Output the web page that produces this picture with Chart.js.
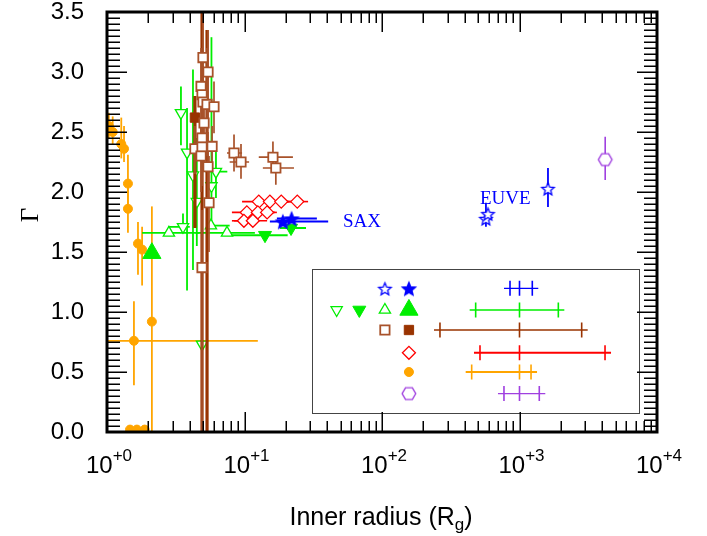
<!DOCTYPE html>
<html>
<head>
<meta charset="utf-8">
<script src="https://cdn.jsdelivr.net/npm/chart.js@4.4.1/dist/chart.umd.min.js"></script>
<style>
  html, body { margin: 0; padding: 0; background: #fff; }
  #chart { display: block; }
</style>
</head>
<body>
<canvas id="chart" width="707" height="536"></canvas>
<script>
// each point: [x, y, xlo, xhi, ylo, yhi]  (null = no error bar)
const orangePts = [
  [1.03, 2.55, null, null, 2.45, 2.66],
  [1.10, 2.50, null, null, 2.40, 2.63],
  [1.27, 2.40, null, null, 2.28, 2.62],
  [1.33, 2.36, null, null, 2.25, 2.55],
  [1.42, 2.07, null, null, 1.85, 2.31],
  [1.42, 1.86, null, null, 1.66, 2.05],
  [1.68, 1.57, null, null, 1.31, 1.75],
  [1.80, 1.52, null, null, 1.22, 1.71],
  [2.12, 0.92, null, null, 0.00, 1.88],
  [1.57, 0.76, 1.00, 12.5, 0.39, 1.09],
  [1.47, 0.02, null, null, null, null],
  [1.65, 0.02, null, null, null, null],
  [1.88, 0.02, null, null, null, null]
];
const greenOpenDown = [
  [3.45, 2.66, null, null, 2.39, 2.88],
  [3.82, 2.33, null, null, 1.18, 2.70],
  [4.22, 2.14, null, null, 1.35, 3.02],
  [6.20, 2.17, 5.2, 7.5, 1.95, 2.35],
  [4.50, 1.92, null, null, 1.55, 2.45],
  [3.57, 1.71, 2.78, 4.0, 1.67, 1.82],
  [4.91, 0.73, null, null, 0.57, 1.93],
  [5.75, 2.05, null, null, 1.75, 3.29]
];
const greenOpenUp = [
  [2.82, 1.66, 1.8, 4.7, null, null],
  [5.70, 1.72, 5.3, 7.8, null, null],
  [7.46, 1.66, 4.4, 11.9, null, null]
];
const greenFilledDown = [
  [14.1, 1.64, 8.1, 20.6, null, null],
  [21.8, 1.70, 18.1, 28.0, null, null]
];
const greenFilledUp = [
  [2.12, 1.49, null, null, null, null]
];
const brownOpen = [
  [4.99, 3.12, null, null, 2.70, 3.60],
  [5.43, 3.00, null, null, 2.55, 3.35],
  [4.83, 2.88, null, null, 2.45, 3.20],
  [4.91, 2.81, null, null, 2.35, 3.10],
  [4.99, 2.75, null, null, 2.40, 3.05],
  [5.34, 2.73, null, null, 2.30, 3.20],
  [6.00, 2.71, null, null, 2.49, 2.92],
  [5.08, 2.575, null, null, 2.20, 2.90],
  [4.91, 2.45, null, null, 2.10, 2.80],
  [4.36, 2.36, null, null, 2.15, 2.55],
  [4.91, 2.375, null, null, 2.05, 2.70],
  [5.81, 2.38, null, null, 2.20, 2.55],
  [4.83, 2.30, null, null, 2.00, 2.60],
  [5.43, 2.21, null, null, 1.90, 2.50],
  [5.52, 1.91, null, null, 1.50, 2.30],
  [4.91, 1.37, null, null, 0.00, 1.85],
  [8.39, 2.325, 7.46, 9.6, 2.17, 2.48],
  [9.43, 2.25, 7.8, 10.8, 2.11, 2.40],
  [16.1, 2.29, 12.7, 22.5, 2.17, 2.42],
  [16.9, 2.20, 13.6, 22.9, 2.06, 2.27]
];
const brownFilled = [
  [4.36, 2.62, null, null, 1.70, 2.80],
  [4.91, 2.45, null, null, 0.00, 3.60],
  [5.34, 2.73, null, null, 0.00, 3.35]
];
const redDiamonds = [
  [12.7, 1.92, 9.6, 17.0, null, null],
  [15.3, 1.92, 11.5, 21.0, null, null],
  [18.5, 1.92, 13.9, 24.5, null, null],
  [24.2, 1.92, 18.5, 29.0, null, null],
  [10.4, 1.83, 8.1, 14.2, null, null],
  [12.5, 1.83, 9.5, 16.6, null, null],
  [14.6, 1.83, 10.6, 17.2, null, null],
  [9.9, 1.76, 8.1, 12.5, null, null],
  [11.5, 1.76, 8.4, 14.6, null, null]
];
const blueFilledStars = [
  [19.0, 1.755, 15.3, 40.6, null, null],
  [22.0, 1.78, 17.2, 33.6, null, null]
];
const blueOpenStars = [
  [570, 1.78, null, null, 1.71, 1.91],
  [590, 1.82, null, null, null, null],
  [1611, 2.03, null, null, 1.875, 2.20]
];
const purpleHex = [
  [4200, 2.27, null, null, 2.10, 2.46]
];

// axis ticks
const yLabels = [0, 0.5, 1.0, 1.5, 2.0, 2.5, 3.0, 3.5];
const xDecades = [1, 10, 100, 1000, 10000];
const xExponents = ['+0', '+1', '+2', '+3', '+4'];

// annotation text in data units
const notes = [
  { text: 'SAX', x: 52, y: 1.71 },
  { text: 'EUVE', x: 516, y: 1.90 }
];

// legend (data units): column x, row y, error-bar samples [lo, mid, hi]
const legendCols = [46.8, 68.4, 105, 157];
const legendRows = [1.197, 1.017, 0.85, 0.66, 0.5, 0.32];
const legendBars = [
  [853, 1000, 1239],
  [480, 1000, 1916],
  [264, 1000, 2833],
  [516, 1000, 4188],
  [449, 1000, 1213],
  [771, 1000, 1393]
];
const legendBox = { x0: 30.8, x1: 7310, y0: 1.358, y1: 0.156 };

const blue = '#0000ff', green = '#00ee00', brown = '#993300', sienna = '#a8522a',
      red = '#ff0000', orange = '#ffa500', purple = '#a040e0';

function pts(arr) {
  return arr.map(p => ({ x: p[0], y: p[1], xlo: p[2], xhi: p[3], ylo: p[4], yhi: p[5] }));
}

function starImg(R, color, filled) {
  const s = Math.ceil(R * 2 + 4);
  const c = document.createElement('canvas');
  c.width = c.height = s;
  const g = c.getContext('2d');
  const m = s / 2;
  g.beginPath();
  for (let k = 0; k < 10; k++) {
    const r = k % 2 ? R * 0.45 : R;
    const a = -Math.PI / 2 + k * Math.PI / 5;
    g.lineTo(m + r * Math.cos(a), m + 1 + r * Math.sin(a));
  }
  g.closePath();
  g.fillStyle = filled ? color : '#fff';
  g.fill();
  g.lineWidth = 1.3;
  g.strokeStyle = color;
  g.stroke();
  return c;
}

function hexImg(R, color) {
  const s = Math.ceil(R * 2 + 4);
  const c = document.createElement('canvas');
  c.width = c.height = s;
  const g = c.getContext('2d');
  const m = s / 2;
  g.beginPath();
  for (let k = 0; k < 6; k++) {
    const a = k * Math.PI / 3;
    g.lineTo(m + R * Math.cos(a), m + R * Math.sin(a));
  }
  g.closePath();
  g.fillStyle = '#fff';
  g.fill();
  g.lineWidth = 1.4;
  g.strokeStyle = color;
  g.stroke();
  return c;
}

const sym = {
  starFilled: { pointStyle: starImg(7, blue, true) },
  starOpen: { pointStyle: starImg(6.5, blue, false) },
  hex: { pointStyle: hexImg(6.8, purple) },
  diamond: { pointStyle: 'rectRot', pointRadius: 6.5, borderColor: red, backgroundColor: '#fff', borderWidth: 1.3 },
  squareOpen: { pointStyle: 'rect', pointRadius: 6.6, borderColor: sienna, backgroundColor: '#fff', borderWidth: 1.8 },
  squareFilled: { pointStyle: 'rect', pointRadius: 6.6, borderColor: brown, backgroundColor: brown, borderWidth: 1 },
  triDownFilled: { pointStyle: 'triangle', rotation: 180, pointRadius: 7.5, borderColor: green, backgroundColor: green, borderWidth: 1 },
  triUpBig: { pointStyle: 'triangle', pointRadius: 10.5, borderColor: green, backgroundColor: green, borderWidth: 1 },
  triUpOpen: { pointStyle: 'triangle', pointRadius: 6.5, borderColor: green, backgroundColor: '#fff', borderWidth: 1.3 },
  triDownOpen: { pointStyle: 'triangle', rotation: 180, pointRadius: 6.5, borderColor: green, backgroundColor: '#fff', borderWidth: 1.3 },
  dot: { pointStyle: 'circle', pointRadius: 4.5, borderColor: orange, backgroundColor: orange, borderWidth: 1 }
};

function series(arr, s, errColor, errWidth) {
  return Object.assign({ data: pts(arr), errColor, errWidth, clip: 0 }, s);
}
function legendSym(col, row, s) {
  return Object.assign({ data: [{ x: legendCols[col], y: legendRows[row] }], clip: 0 }, s);
}

const datasets = [
  legendSym(2, 0, sym.starOpen), legendSym(3, 0, sym.starFilled),
  legendSym(0, 1, sym.triDownOpen), legendSym(1, 1, sym.triDownFilled),
  legendSym(2, 1, sym.triUpOpen), legendSym(3, 1, sym.triUpBig),
  legendSym(2, 2, sym.squareOpen), legendSym(3, 2, sym.squareFilled),
  legendSym(3, 3, sym.diamond), legendSym(3, 4, sym.dot), legendSym(3, 5, sym.hex),
  series(blueFilledStars, sym.starFilled, blue, 2),
  series(blueOpenStars, sym.starOpen, blue, 1.8),
  series(purpleHex, sym.hex, purple, 1.6),
  series(redDiamonds, sym.diamond, red, 1.6),
  series(brownOpen, sym.squareOpen, sienna, 1.7),
  series(brownFilled, sym.squareFilled, brown, 3.2),
  series(greenFilledDown, sym.triDownFilled, green, 2),
  series(greenFilledUp, sym.triUpBig, green, 2),
  series(greenOpenUp, sym.triUpOpen, green, 1.8),
  series(greenOpenDown, sym.triDownOpen, green, 1.8),
  series(orangePts, sym.dot, orange, 1.8)
];

const legendColors = [blue, green, brown, red, orange, purple];

const figure = {
  id: 'figure',
  beforeDatasetsDraw(chart) {
    const { ctx, scales: { x, y } } = chart;
    // legend box
    const bx0 = x.getPixelForValue(legendBox.x0), bx1 = x.getPixelForValue(legendBox.x1);
    const by0 = y.getPixelForValue(legendBox.y0), by1 = y.getPixelForValue(legendBox.y1);
    ctx.save();
    ctx.fillStyle = '#fff';
    ctx.fillRect(bx0, by0, bx1 - bx0, by1 - by0);
    ctx.strokeStyle = '#444';
    ctx.lineWidth = 1;
    ctx.strokeRect(Math.round(bx0) + 0.5, Math.round(by0) + 0.5, Math.round(bx1 - bx0), Math.round(by1 - by0));
    legendBars.forEach((b, i) => {
      const py = y.getPixelForValue(legendRows[i]);
      const xs = b.map(v => x.getPixelForValue(v));
      ctx.strokeStyle = legendColors[i];
      ctx.lineWidth = (i === 3 || i === 4) ? 2 : 1.4;
      ctx.beginPath();
      ctx.moveTo(xs[0] - 6, py); ctx.lineTo(xs[2] + 6, py);
      ctx.stroke();
      ctx.lineWidth = 1.6;
      ctx.beginPath();
      xs.forEach(px => { ctx.moveTo(px, py - 7.5); ctx.lineTo(px, py + 7.5); });
      ctx.stroke();
    });
    ctx.restore();
  },
  beforeDatasetDraw(chart, args) {
    const ds = chart.data.datasets[args.index];
    if (!ds.errColor) return;
    const { ctx, chartArea: a, scales: { x, y } } = chart;
    ctx.save();
    ctx.beginPath();
    ctx.rect(a.left, a.top, a.right - a.left, a.bottom - a.top);
    ctx.clip();
    ctx.strokeStyle = ds.errColor;
    ctx.lineWidth = ds.errWidth;
    ds.data.forEach(p => {
      const px = x.getPixelForValue(p.x), py = y.getPixelForValue(p.y);
      ctx.beginPath();
      if (p.xlo != null) {
        ctx.moveTo(x.getPixelForValue(p.xlo), py);
        ctx.lineTo(x.getPixelForValue(p.xhi), py);
      }
      if (p.ylo != null) {
        ctx.moveTo(px, y.getPixelForValue(p.ylo));
        ctx.lineTo(px, y.getPixelForValue(p.yhi));
      }
      ctx.stroke();
    });
    ctx.restore();
  },
  afterDatasetsDraw(chart) {
    const { ctx, chartArea: a, scales: { x, y } } = chart;
    ctx.save();
    // inward ticks on all four sides
    ctx.strokeStyle = '#000';
    ctx.lineWidth = 1.5;
    ctx.beginPath();
    for (let k = 0; k <= 70; k++) {
      const v = k * 0.05;
      const len = k % 10 === 0 ? 20 : 13;
      const py = Math.round(y.getPixelForValue(v)) + 0.25;
      ctx.moveTo(a.left, py); ctx.lineTo(a.left + len, py);
      ctx.moveTo(a.right, py); ctx.lineTo(a.right - len, py);
    }
    xDecades.forEach((d, i) => {
      for (let m = 1; m <= 9; m++) {
        if (i === xDecades.length - 1 && m > 1) break;
        const px = Math.round(x.getPixelForValue(d * m)) + 0.25;
        const len = m === 1 ? 20 : 11;
        ctx.moveTo(px, a.bottom); ctx.lineTo(px, a.bottom - len);
        ctx.moveTo(px, a.top); ctx.lineTo(px, a.top + len);
      }
    });
    ctx.stroke();
    // frame
    ctx.lineWidth = 3;
    ctx.strokeRect(a.left, a.top, a.right - a.left, a.bottom - a.top);

    // y tick labels
    ctx.fillStyle = '#000';
    ctx.font = '24px "Liberation Sans", Arial, sans-serif';
    ctx.textAlign = 'right';
    ctx.textBaseline = 'middle';
    yLabels.forEach(v => ctx.fillText(v.toFixed(1), 84, y.getPixelForValue(v)));

    // x tick labels 10^n
    ctx.textAlign = 'left';
    ctx.textBaseline = 'alphabetic';
    xDecades.forEach((d, i) => {
      const px = x.getPixelForValue(d);
      ctx.font = '24px "Liberation Sans", Arial, sans-serif';
      const wb = ctx.measureText('10').width;
      ctx.font = '17px "Liberation Sans", Arial, sans-serif';
      const we = ctx.measureText(xExponents[i]).width;
      const x0 = px - (wb + we) / 2 + 2;
      ctx.font = '24px "Liberation Sans", Arial, sans-serif';
      ctx.fillText('10', x0, 473);
      ctx.font = '17px "Liberation Sans", Arial, sans-serif';
      ctx.fillText(xExponents[i], x0 + wb, 461);
    });

    // x axis title with subscript
    const t1 = 'Inner radius (R', t2 = 'g', t3 = ')';
    ctx.font = '25px "Liberation Sans", Arial, sans-serif';
    const w1 = ctx.measureText(t1).width, w3 = ctx.measureText(t3).width;
    ctx.font = '17px "Liberation Sans", Arial, sans-serif';
    const w2 = ctx.measureText(t2).width;
    const tx = 381 - (w1 + w2 + w3) / 2;
    ctx.font = '25px "Liberation Sans", Arial, sans-serif';
    ctx.fillText(t1, tx, 525);
    ctx.font = '17px "Liberation Sans", Arial, sans-serif';
    ctx.fillText(t2, tx + w1, 530);
    ctx.font = '25px "Liberation Sans", Arial, sans-serif';
    ctx.fillText(t3, tx + w1 + w2, 525);

    // y axis title
    ctx.save();
    ctx.translate(31, 215);
    ctx.rotate(-Math.PI / 2);
    ctx.font = '25px "Liberation Serif", "Times New Roman", serif';
    ctx.textAlign = 'center';
    ctx.textBaseline = 'middle';
    ctx.fillText('Γ', 0, 0);
    ctx.restore();

    // annotations
    ctx.fillStyle = blue;
    ctx.font = '19px "Liberation Serif", "Times New Roman", serif';
    ctx.textAlign = 'left';
    ctx.textBaseline = 'alphabetic';
    notes.forEach(n => ctx.fillText(n.text, x.getPixelForValue(n.x), y.getPixelForValue(n.y)));
    ctx.restore();
  }
};

new Chart(document.getElementById('chart'), {
  type: 'scatter',
  data: { datasets },
  options: {
    responsive: false,
    devicePixelRatio: 1,
    animation: false,
    events: [],
    layout: { padding: { left: 107, right: 50, top: 12, bottom: 104 } },
    plugins: { legend: { display: false }, tooltip: { enabled: false }, title: { display: false } },
    scales: {
      x: { type: 'logarithmic', min: 1, max: 10000, display: false },
      y: { type: 'linear', min: 0, max: 3.5, display: false }
    }
  },
  plugins: [figure]
});
</script>
</body>
</html>
